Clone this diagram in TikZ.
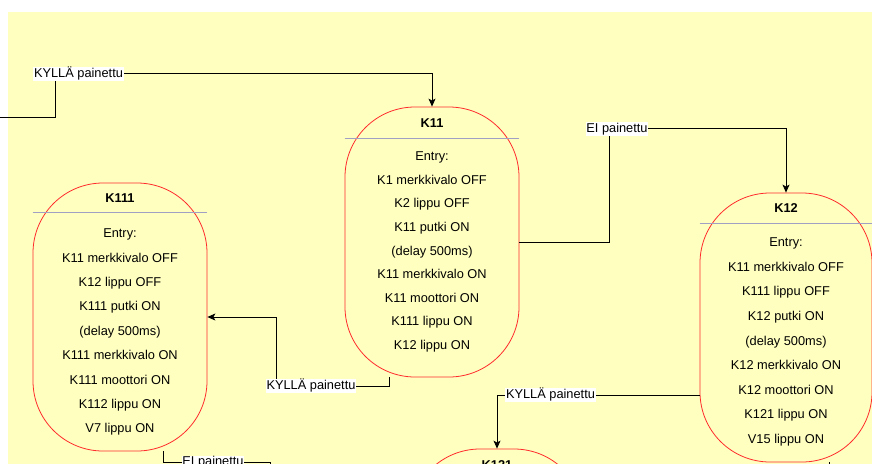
\documentclass[tikz,border=0pt]{standalone}
\usepackage{fontspec}
\setmainfont{Liberation Sans}
\usetikzlibrary{positioning,arrows.meta}
\definecolor{notebg}{HTML}{FFFFC0}
\definecolor{stateline}{HTML}{FF2A2A}
\definecolor{headrule}{HTML}{A0A0C4}

\begin{document}
\begin{tikzpicture}[
  x=1pt, y=-1pt,
  %--- state boxes ---
  state/.style={draw=stateline, line width=0.8pt, rounded corners=70pt,
    minimum width=174pt, minimum height=270pt, inner sep=0pt},
  title/.style={font=\fontsize{12.8}{15}\selectfont\bfseries},
  entries/.style={align=center, inner sep=0pt, font=\fontsize{12.8}{#1}\selectfont},
  rule/.style={draw=headrule, line width=0.8pt},
  %--- edges ---
  arr/.style={-{Stealth[length=8pt, width=7pt, inset=2pt]}, line width=0.8pt},
  link/.style={line width=0.8pt},
  lbl/.style={fill=white, inner sep=0.6pt, text height=9.6pt, text depth=2.8pt,
    font=\fontsize{12.8}{15}\selectfont}
]

%% ── FRAME ───────────────────────────────────────────────────────────────────
\path[use as bounding box, fill=white] (0,0) rectangle (872,463);
\clip (0,0) rectangle (872,463);
\fill[notebg] (8,12) rectangle (880,470);

%% ── STATE K11 ───────────────────────────────────────────────────────────────
\node[state] (k11) at (432,242) {};
\node[title] (k11t) at ([yshift=-16.5pt]k11.north) {K11};
\draw[rule] ([yshift=-32pt]k11.north west) -- ([yshift=-32pt]k11.north east);
\node[entries=23.6] (k11e) at ([yshift=-145.4pt]k11.north)
  {Entry:\\K1 merkkivalo OFF\\K2 lippu OFF\\K11 putki ON\\(delay 500ms)\\
   K11 merkkivalo ON\\K11 moottori ON\\K111 lippu ON\\K12 lippu ON};

%% ── STATE K111 ──────────────────────────────────────────────────────────────
\node[state, minimum height=268pt] (k111) at (120,317) {};
\node[title] (k111t) at ([yshift=-15.5pt]k111.north) {K111};
\draw[rule] ([yshift=-30pt]k111.north west) -- ([yshift=-30pt]k111.north east);
\node[entries=24.4] (k111e) at ([yshift=-149.6pt]k111.north)
  {Entry:\\K11 merkkivalo OFF\\K12 lippu OFF\\K111 putki ON\\(delay 500ms)\\
   K111 merkkivalo ON\\K111 moottori ON\\K112 lippu ON\\V7 lippu ON};

%% ── STATE K12 ───────────────────────────────────────────────────────────────
\node[state, minimum width=172pt, minimum height=269pt] (k12) at (786,327.5) {};
\node[title] (k12t) at ([yshift=-15.5pt]k12.north) {K12};
\draw[rule] ([yshift=-31pt]k12.north west) -- ([yshift=-31pt]k12.north east);
\node[entries=24.6] (k12e) at ([yshift=-149.4pt]k12.north)
  {Entry:\\K11 merkkivalo OFF\\K111 lippu OFF\\K12 putki ON\\(delay 500ms)\\
   K12 merkkivalo ON\\K12 moottori ON\\K121 lippu ON\\V15 lippu ON};

%% ── STATE K121 (cut off below) ──────────────────────────────────────────────
\node[state, minimum height=268pt] (k121) at (497,583) {};
\node[title] (k121t) at ([yshift=-16.5pt]k121.north) {K121};

%% ── TRANSITIONS ─────────────────────────────────────────────────────────────
\coordinate (inL) at (-5,117);
\draw[arr] (inL) -- ++(60,0) |- ([yshift=33pt]k11.north) -- (k11.north);
\draw[arr] (k11.east) -- ++(90,0) |- ([yshift=64pt]k12.north) -- (k12.north);
\draw[arr] ([xshift=-43pt]k11.south) -- ++(0,9) -| ([xshift=69pt]k111.east) -- (k111.east);
\draw[arr] ([yshift=-67.5pt]k12.west) -| (k121.north);
\draw[link] ([xshift=43pt]k111.south) -- ++(0,11) -- ++(107,0) -- ++(0,20);
\draw[link] ([xshift=43pt]k12.south) -- ++(0,20);

%% ── LABELS ──────────────────────────────────────────────────────────────────
\node[lbl] (yes1) at (78.5,74) {KYLLÄ painettu};
\node[lbl] (no1) at (617,129) {EI painettu};
\node[lbl] (yes2) at (311,386) {KYLLÄ painettu};
\node[lbl] (yes3) at (550.5,395) {KYLLÄ painettu};
\node[lbl] (no2) at (213,462.5) {EI painettu};
\end{tikzpicture}
\end{document}
